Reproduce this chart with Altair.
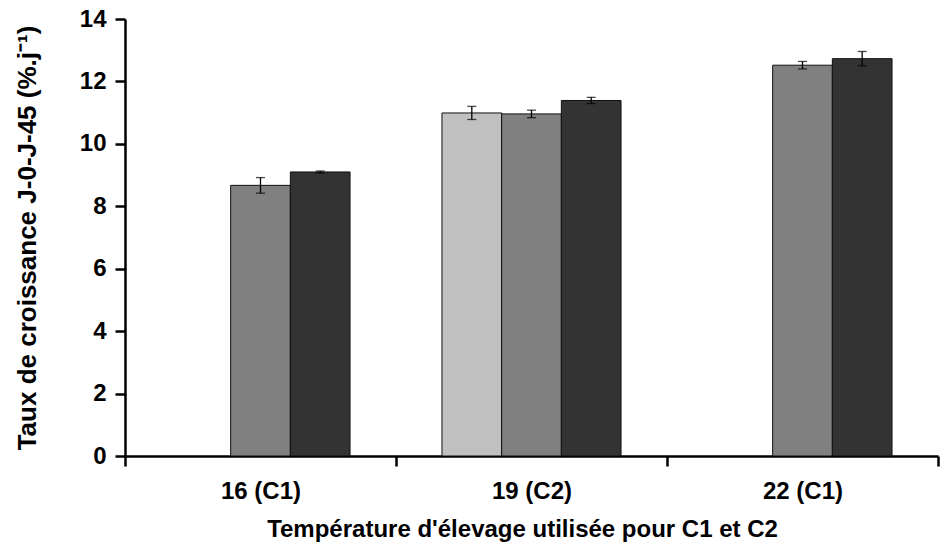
import altair as alt
import pandas as pd

# Growth rate (J-0 to J-45) by rearing temperature, three batches per temperature
groups = ["16 (C1)", "16 (C1)", "19 (C2)", "19 (C2)", "19 (C2)", "22 (C1)", "22 (C1)"]
series = ["s2", "s3", "s1", "s2", "s3", "s2", "s3"]
values = [8.67, 9.10, 10.99, 10.96, 11.39, 12.52, 12.73]
errors = [0.25, 0.03, 0.21, 0.12, 0.10, 0.12, 0.23]

group_order = ["16 (C1)", "19 (C2)", "22 (C1)"]
series_order = ["s1", "s2", "s3"]
series_colors = ["#c0c0c0", "#808080", "#333333"]

df = pd.DataFrame({"group": groups, "series": series, "value": values, "err": errors})
df["lo"] = df["value"] - df["err"]
df["hi"] = df["value"] + df["err"]

FONT = "Liberation Sans"

x_scale = alt.Scale(domain=group_order, paddingInner=0, paddingOuter=0)
xoff_scale = alt.Scale(domain=series_order, paddingInner=0, paddingOuter=0.77)
y_scale = alt.Scale(domain=[0, 14], nice=False)

x_axis = alt.Axis(
    title="Température d'élevage utilisée pour C1 et C2",
    labelAngle=0,
    tickBand="extent",
    tickSize=10,
    labelPadding=13,
    titlePadding=14,
    titleX=397,
)
y_axis = alt.Axis(
    title="Taux de croissance J-0-J-45 (%.j⁻¹)",
    values=[0, 2, 4, 6, 8, 10, 12, 14],
    tickSize=10,
    labelPadding=9,
    titlePadding=39,
)

bars = alt.Chart(df).mark_bar(stroke="#111111", strokeWidth=1).encode(
    x=alt.X("group:N", sort=group_order, scale=x_scale, axis=x_axis),
    xOffset=alt.XOffset("series:N", scale=xoff_scale),
    y=alt.Y("value:Q", scale=y_scale, axis=y_axis),
    color=alt.Color(
        "series:N",
        scale=alt.Scale(domain=series_order, range=series_colors),
        legend=None,
    ),
)

rules = alt.Chart(df).mark_rule(color="black", strokeWidth=1.3).encode(
    x=alt.X("group:N", sort=group_order, axis=x_axis),
    xOffset="series:N",
    y=alt.Y("lo:Q", scale=y_scale, axis=y_axis),
    y2="hi:Q",
)

caps_hi = alt.Chart(df).mark_tick(color="black", size=9, thickness=1.3).encode(
    x=alt.X("group:N", sort=group_order, axis=x_axis),
    xOffset="series:N",
    y=alt.Y("hi:Q", scale=y_scale, axis=y_axis),
)
caps_lo = alt.Chart(df).mark_tick(color="black", size=9, thickness=1.3).encode(
    x=alt.X("group:N", sort=group_order, axis=x_axis),
    xOffset="series:N",
    y=alt.Y("lo:Q", scale=y_scale, axis=y_axis),
)

chart = (
    alt.layer(bars, rules, caps_hi, caps_lo)
    .properties(
        width=813,
        height=437,
        background="white",
        autosize=alt.AutoSizeParams(type="none"),
        padding={"left": 125, "top": 19, "right": 6, "bottom": 89},
    )
    .configure_axis(
        grid=False,
        domainColor="black",
        domainWidth=2.5,
        tickColor="black",
        tickWidth=2.5,
        labelFont=FONT,
        labelFontSize=24,
        labelFontWeight="bold",
        labelColor="black",
        titleFont=FONT,
        titleFontWeight="bold",
        titleColor="black",
    )
    .configure_axisX(titleFontSize=24)
    .configure_axisY(titleFontSize=26)
    .configure_view(stroke=None)
)

chart.save("out.html", embed_options={"renderer": "svg", "actions": False})
